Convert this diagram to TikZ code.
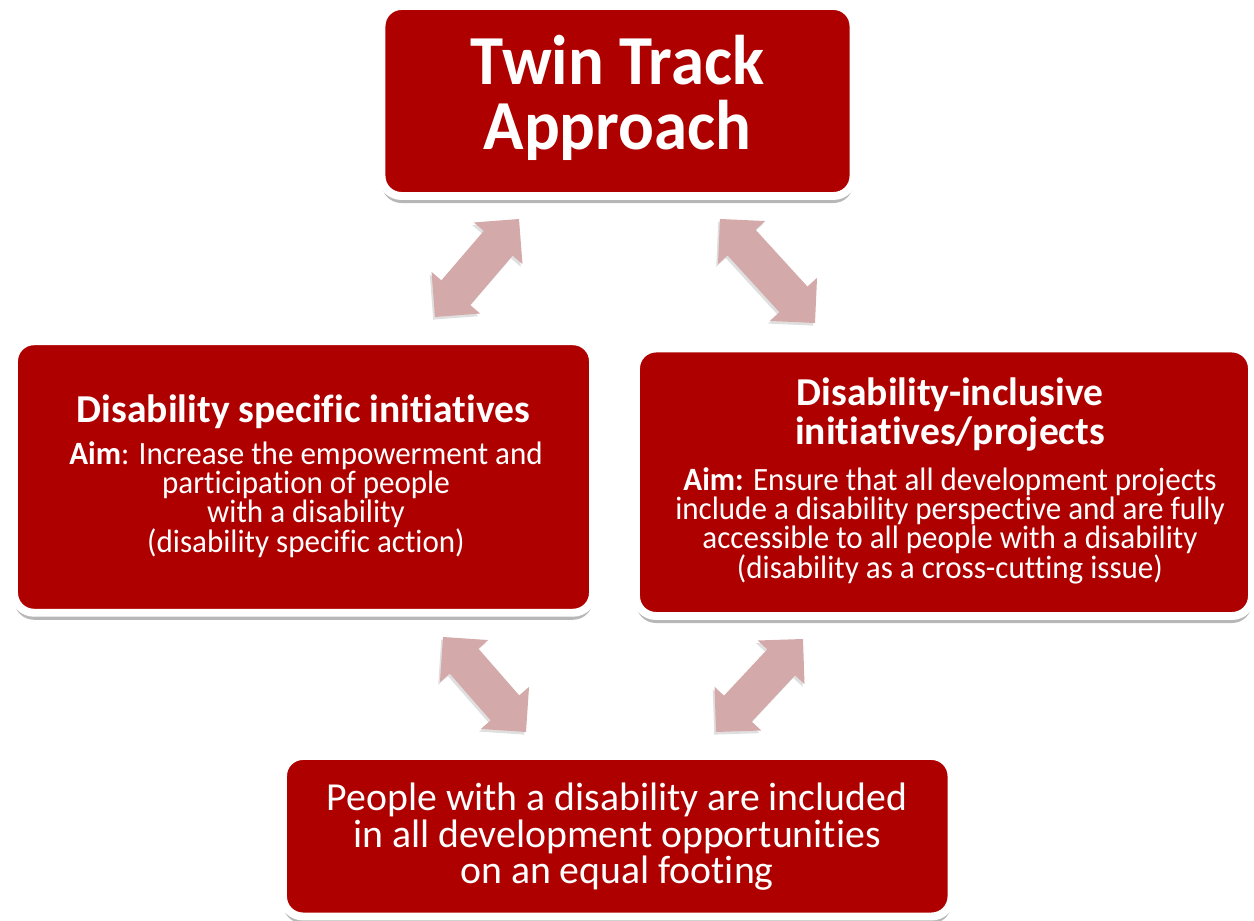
\documentclass[tikz,border=0pt]{standalone}
\usepackage{fontspec}
\setmainfont{Carlito}[Ligatures=NoCommon]
\newfontfamily\trackfont{Carlito}[FakeStretch=0.95,Ligatures=NoCommon]
\newfontfamily\aimfont{Carlito}[FakeStretch=0.955,Ligatures=NoCommon]
\usetikzlibrary{calc,shadows}

\definecolor{boxred}{RGB}{175,0,0}
\definecolor{arrowpink}{RGB}{212,169,170}

\tikzset{
  card/.style={rounded corners=0.4cm,fill=boxred,draw=white,line width=4.5pt,
    drop shadow={shadow xshift=0pt,shadow yshift=-4pt,opacity=.4,fill=black!70},
    inner sep=0pt},
  cardtext/.style={text=white,align=center,anchor=base,inner sep=0pt},
  twinarrow/.style={fill=arrowpink,
    drop shadow={shadow xshift=-1pt,shadow yshift=-1.5pt,opacity=.25}}
}
% block arrow with a head at both tips
\newcommand{\twinarrow}[2]{%
  \coordinate(#1h)at($(#1)!0.64cm!(#2)$);
  \coordinate(#2h)at($(#2)!0.64cm!(#1)$);
  \fill[twinarrow](#1)--($(#1h)!0.64cm!90:(#2)$)--($(#1h)!0.38cm!90:(#2)$)
    --($(#2h)!0.38cm!-90:(#1)$)--($(#2h)!0.64cm!-90:(#1)$)--(#2)
    --($(#2h)!0.64cm!90:(#1)$)--($(#2h)!0.38cm!90:(#1)$)
    --($(#1h)!0.38cm!-90:(#2)$)--($(#1h)!0.64cm!-90:(#2)$)--cycle;}

\begin{document}
\begin{tikzpicture}
    \useasboundingbox(0,0)rectangle(25.08,18.42);
    % boxes
    \node[card,minimum width=9.44cm,minimum height=3.8cm](approach)at(12.35,16.40){};
    \node[card,minimum width=11.58cm,minimum height=5.43cm](specific)at(6.07,8.88){};
    \node[card,minimum width=12.32cm,minimum height=5.35cm](inclusive)at(18.88,8.775){};
    \node[card,minimum width=13.37cm,minimum height=3.21cm](included)at(12.345,1.695){};
    % texts (base = last line)
    \node[cardtext,font=\trackfont\bfseries\fontsize{40}{37}\selectfont](approachtext)at(12.35,15.42){Twin Track\\Approach};
    \node[cardtext,font=\bfseries\fontsize{22.5}{22.7}\selectfont](specifictitle)at(6.07,9.96){Disability specific initiatives};
    \node[cardtext,font=\aimfont\fontsize{18.5}{16.4}\selectfont](specificaim)at(6.12,7.36){\textbf{Aim}: Increase the empowerment and\\participation of people\\with a disability\\(disability specific action)};
    \node[cardtext,font=\bfseries\fontsize{22.5}{22.7}\selectfont](inclusivetitle)at(19.0,9.52){Disability-inclusive\\initiatives/projects};
    \node[cardtext,font=\aimfont\fontsize{18.5}{16.4}\selectfont](inclusiveaim)at(19.0,6.84){\textbf{Aim:} Ensure that all development projects\\include a disability perspective and are fully\\accessible to all people with a disability\\(disability as a cross-cutting issue)};
    \node[cardtext,font=\fontsize{22.6}{21}\selectfont](includedtext)at(12.34,0.74){People with a disability are included\\in all development opportunities\\on an equal footing};
    % arrows
    \coordinate(tlA)at(10.38,14.04);
    \coordinate(tlB)at(8.70,12.08);
    \coordinate(trA)at(14.40,14.04);
    \coordinate(trB)at(16.30,11.96);
    \coordinate(blA)at(8.86,5.68);
    \coordinate(blB)at(10.52,3.78);
    \coordinate(brA)at(16.06,5.64);
    \coordinate(brB)at(14.32,3.78);
    \twinarrow{tlA}{tlB}
    \twinarrow{trA}{trB}
    \twinarrow{blA}{blB}
    \twinarrow{brA}{brB}
\end{tikzpicture}
\end{document}
